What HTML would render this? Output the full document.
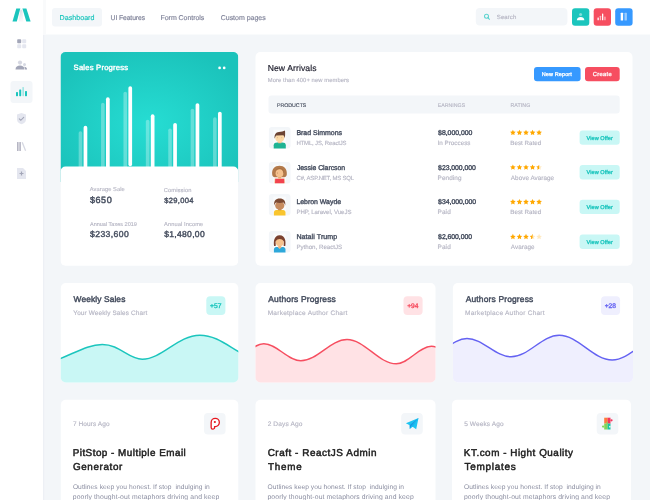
<!DOCTYPE html>
<html><head><meta charset="utf-8"><title>Dashboard</title>
<style>
html,body{margin:0;padding:0;width:650px;height:500px;overflow:hidden;background:#F3F6F9;}
svg{display:block;will-change:transform;text-rendering:geometricPrecision;font-family:"Liberation Sans",sans-serif;}
</style></head>
<body>
<svg width="650" height="500" viewBox="0 0 650 500">
<rect x="0.00" y="0.00" width="650.00" height="500.00" rx="0" fill="#F3F6F9" />
<rect x="0.00" y="0.00" width="43.00" height="500.00" rx="0" fill="#FFFFFF" />
<rect x="43.00" y="34.50" width="1.20" height="500.00" rx="0" fill="#EDF0F5" />
<rect x="43.00" y="0.00" width="607.00" height="34.50" rx="0" fill="#FFFFFF" />
<rect x="43.00" y="0.00" width="3.00" height="34.50" rx="0" fill="#F9FAFB" />
<polygon points="16.3,8.5 20.3,8.5 16.8,21.5 12.5,21.5" fill="#1BC5BD"/>
<polygon points="22.4,8.5 26.4,8.5 30.6,21.5 26.3,21.5" fill="#1BC5BD"/>
<defs><linearGradient id="lg" x1="0" y1="0" x2="0.3" y2="1"><stop offset="0" stop-color="#DADCE4"/><stop offset="1" stop-color="#F8F8FA"/></linearGradient></defs>
<polygon points="20.3,9.8 22.4,9.8 23.3,21.5 18.6,21.5" fill="url(#lg)"/>
<rect x="17.20" y="39.20" width="4.00" height="4.00" rx="0.8" fill="#A3A6B8" />
<rect x="22.20" y="39.20" width="4.00" height="4.00" rx="0.8" fill="#E4E6EF" />
<rect x="17.20" y="44.20" width="4.00" height="4.00" rx="0.8" fill="#E4E6EF" />
<rect x="22.20" y="44.20" width="4.00" height="4.00" rx="0.8" fill="#E4E6EF" />
<circle cx="20" cy="62.6" r="2.1" fill="#D6D8E2"/>
<circle cx="24.5" cy="64.6" r="1.5" fill="#D6D8E2"/>
<path d="M15.5,69.6 C15.6,66.6 17.5,65.6 20,65.6 C22.5,65.6 24.4,66.6 24.5,69.6 Z" fill="#A3A6B8"/>
<path d="M24.2,66.8 C26,66.8 26.9,67.8 27.1,69.6 L25,69.6 C24.9,68.3 24.6,67.4 24.2,66.8 Z" fill="#A3A6B8"/>
<rect x="10.50" y="81.00" width="22.00" height="22.00" rx="3" fill="#F3F6F9" />
<rect x="16.00" y="92.00" width="2.00" height="4.20" rx="0.6" fill="#1BC5BD" />
<rect x="19.20" y="89.40" width="2.00" height="6.80" rx="0.6" fill="#1BC5BD" />
<rect x="22.40" y="87.00" width="1.50" height="9.20" rx="0.6" fill="#9BE5E1" />
<rect x="25.00" y="91.00" width="2.00" height="5.20" rx="0.6" fill="#1BC5BD" />
<path d="M17,114.5 L21.5,113 L26,114.5 L26,119.5 C26,122 24,123.5 21.5,124.3 C19,123.5 17,122 17,119.5 Z" fill="#E4E6EF"/>
<path d="M19.3,118.9 L20.8,120.3 L23.7,117.3" stroke="#A3A6B8" stroke-width="1.1" fill="none" stroke-linecap="round"/>
<rect x="17.00" y="142.00" width="1.60" height="9.00" rx="0.3" fill="#B5B5C3" />
<rect x="19.30" y="142.00" width="1.60" height="9.00" rx="0.3" fill="#B5B5C3" />
<path d="M22.2,142.3 L25.6,150.8" stroke="#D6D8E2" stroke-width="1.3"/>
<path d="M17,168 L23,168 L26,171 L26,179 L17,179 Z" fill="#E4E6EF"/>
<path d="M21.5,171.5 L21.5,175.5 M19.5,173.5 L23.5,173.5" stroke="#A3A6B8" stroke-width="1.2"/>
<rect x="52.00" y="8.00" width="50.00" height="18.50" rx="3" fill="#F3F6F9" />
<text x="59.51" y="19.90" font-size="7.11" font-weight="normal" letter-spacing="0.021" fill="#1BC5BD" stroke="#1BC5BD" stroke-width="0.16" stroke-linejoin="round" >Dashboard</text>
<text x="110.57" y="19.90" font-size="6.84" font-weight="normal" letter-spacing="-0.115" fill="#80849A" stroke="#80849A" stroke-width="0.16" stroke-linejoin="round" >UI Features</text>
<text x="160.52" y="19.90" font-size="7.0" font-weight="normal" letter-spacing="-0.042" fill="#80849A" stroke="#80849A" stroke-width="0.16" stroke-linejoin="round" >Form Controls</text>
<text x="220.73" y="19.90" font-size="7.03" font-weight="normal" letter-spacing="-0.028" fill="#80849A" stroke="#80849A" stroke-width="0.16" stroke-linejoin="round" >Custom pages</text>
<rect x="475.80" y="8.00" width="91.60" height="17.50" rx="4" fill="#F3F6F9" />
<circle cx="486.5" cy="16.3" r="2.0" fill="none" stroke="#1BC5BD" stroke-opacity="0.7" stroke-width="1.05"/>
<path d="M488.1,17.9 L489.5,19.3" stroke="#1BC5BD" stroke-opacity="0.7" stroke-width="1.05" stroke-linecap="round"/>
<text x="496.79" y="18.80" font-size="6.06" font-weight="normal" letter-spacing="0.064" fill="#B5B5C3" stroke="#B5B5C3" stroke-width="0.134" stroke-linejoin="round" >Search</text>
<rect x="572.00" y="8.30" width="17.30" height="17.40" rx="3" fill="#1BC5BD" />
<circle cx="580.6" cy="14.6" r="1.5" fill="#FFFFFF" fill-opacity="0.45"/>
<path d="M576.8,20.2 C577,17.9 578.5,16.9 580.6,16.9 C582.7,16.9 584.2,17.9 584.4,20.2 Z" fill="#FFFFFF"/>
<rect x="593.70" y="8.30" width="17.30" height="17.40" rx="3" fill="#F64E60" />
<rect x="597.50" y="17.40" width="1.30" height="2.90" rx="0.4" fill="#FFFFFF" />
<rect x="599.80" y="15.80" width="1.30" height="4.50" rx="0.4" fill="#FFFFFF" fill-opacity="0.6"/>
<rect x="602.00" y="13.50" width="1.30" height="6.80" rx="0.4" fill="#FFFFFF" />
<rect x="604.30" y="16.50" width="1.30" height="3.80" rx="0.4" fill="#FFFFFF" fill-opacity="0.6"/>
<rect x="615.20" y="8.30" width="17.40" height="17.40" rx="3" fill="#3699FF" />
<rect x="620.70" y="12.80" width="2.40" height="7.80" rx="0.5" fill="#FFFFFF" />
<rect x="624.50" y="12.80" width="2.40" height="7.80" rx="0.5" fill="#FFFFFF" fill-opacity="0.5"/>
<defs><radialGradient id="tg" cx="0.5" cy="0.55" r="0.6"><stop offset="0" stop-color="#26DDD3"/><stop offset="1" stop-color="#1BC3BB"/></radialGradient></defs>
<clipPath id="c1"><rect x="60.5" y="52" width="177.8" height="213.8" rx="5"/></clipPath>
<g clip-path="url(#c1)">
<rect x="60.50" y="52.00" width="177.80" height="130.00" rx="0" fill="url(#tg)" />
<rect x="78.65" y="131.30" width="3.60" height="80.00" rx="1.8" fill="#FFFFFF" fill-opacity="0.3"/>
<rect x="83.60" y="125.80" width="3.70" height="80.00" rx="1.85" fill="#FFFFFF" />
<rect x="101.05" y="102.80" width="3.60" height="80.00" rx="1.8" fill="#FFFFFF" fill-opacity="0.3"/>
<rect x="106.00" y="97.30" width="3.70" height="80.00" rx="1.85" fill="#FFFFFF" />
<rect x="123.45" y="91.70" width="3.60" height="80.00" rx="1.8" fill="#FFFFFF" fill-opacity="0.3"/>
<rect x="128.40" y="86.20" width="3.70" height="80.00" rx="1.85" fill="#FFFFFF" />
<rect x="145.85" y="119.80" width="3.60" height="80.00" rx="1.8" fill="#FFFFFF" fill-opacity="0.3"/>
<rect x="150.80" y="114.30" width="3.70" height="80.00" rx="1.85" fill="#FFFFFF" />
<rect x="168.25" y="128.50" width="3.60" height="80.00" rx="1.8" fill="#FFFFFF" fill-opacity="0.3"/>
<rect x="173.20" y="123.00" width="3.70" height="80.00" rx="1.85" fill="#FFFFFF" />
<rect x="190.65" y="108.70" width="3.60" height="80.00" rx="1.8" fill="#FFFFFF" fill-opacity="0.3"/>
<rect x="195.60" y="103.20" width="3.70" height="80.00" rx="1.85" fill="#FFFFFF" />
<rect x="213.05" y="117.20" width="3.60" height="80.00" rx="1.8" fill="#FFFFFF" fill-opacity="0.3"/>
<rect x="218.00" y="111.70" width="3.70" height="80.00" rx="1.85" fill="#FFFFFF" />
<rect x="60.50" y="166.50" width="177.80" height="110.00" rx="5" fill="#FFFFFF" />
</g>
<circle cx="219.6" cy="67.9" r="1.35" fill="#FFFFFF"/>
<circle cx="224.2" cy="67.9" r="1.35" fill="#FFFFFF"/>
<text x="73.60" y="70.05" font-size="7.68" font-weight="normal" letter-spacing="0.193" fill="#FFFFFF" stroke="#FFFFFF" stroke-width="0.389" stroke-linejoin="round" >Sales Progress</text>
<text x="89.86" y="190.90" font-size="5.68" font-weight="normal" letter-spacing="0.082" fill="#B5B5C3" stroke="#B5B5C3" stroke-width="0.125" stroke-linejoin="round" >Avarage Sale</text>
<text x="89.93" y="202.80" font-size="9.07" font-weight="normal" letter-spacing="0.561" fill="#464E5F" stroke="#464E5F" stroke-width="0.443" stroke-linejoin="round" >$650</text>
<text x="163.78" y="191.80" font-size="5.72" font-weight="normal" letter-spacing="0.115" fill="#B5B5C3" stroke="#B5B5C3" stroke-width="0.125" stroke-linejoin="round" >Comission</text>
<text x="164.31" y="202.50" font-size="7.58" font-weight="normal" letter-spacing="0.298" fill="#464E5F" stroke="#464E5F" stroke-width="0.378" stroke-linejoin="round" >$29,004</text>
<text x="89.96" y="225.90" font-size="5.53" font-weight="normal" letter-spacing="0.006" fill="#B5B5C3" stroke="#B5B5C3" stroke-width="0.125" stroke-linejoin="round" >Annual Taxes 2019</text>
<text x="90.03" y="237.30" font-size="8.64" font-weight="normal" letter-spacing="0.405" fill="#464E5F" stroke="#464E5F" stroke-width="0.425" stroke-linejoin="round" >$233,600</text>
<text x="164.06" y="225.90" font-size="5.7" font-weight="normal" letter-spacing="0.099" fill="#B5B5C3" stroke="#B5B5C3" stroke-width="0.125" stroke-linejoin="round" >Annual Income</text>
<text x="164.13" y="237.40" font-size="8.55" font-weight="normal" letter-spacing="0.314" fill="#464E5F" stroke="#464E5F" stroke-width="0.425" stroke-linejoin="round" >$1,480,00</text>
<rect x="255.50" y="52.00" width="377.00" height="213.80" rx="5" fill="#FFFFFF" />
<text x="267.71" y="70.80" font-size="8.57" font-weight="normal" letter-spacing="0.108" fill="#1E1E2D" stroke="#1E1E2D" stroke-width="0.189" stroke-linejoin="round" >New Arrivals</text>
<text x="267.80" y="82.40" font-size="5.82" font-weight="normal" letter-spacing="0.086" fill="#B5B5C3" stroke="#B5B5C3" stroke-width="0.128" stroke-linejoin="round" >More than 400+ new members</text>
<rect x="534.00" y="67.00" width="46.60" height="14.20" rx="3" fill="#3699FF" />
<text x="541.70" y="76.00" font-size="5.53" font-weight="normal" letter-spacing="0.113" fill="#FFFFFF" stroke="#FFFFFF" stroke-width="0.283" stroke-linejoin="round" >New Report</text>
<rect x="585.00" y="67.00" width="34.70" height="14.20" rx="3" fill="#F64E60" />
<text x="592.85" y="76.00" font-size="5.8" font-weight="normal" letter-spacing="0.288" fill="#FFFFFF" stroke="#FFFFFF" stroke-width="0.283" stroke-linejoin="round" >Create</text>
<rect x="268.50" y="95.40" width="351.20" height="18.10" rx="3" fill="#F3F6F9" />
<text x="276.94" y="106.70" font-size="5.24" font-weight="normal" letter-spacing="0.006" fill="#464E5F" stroke="#464E5F" stroke-width="0.118" stroke-linejoin="round" >PRODUCTS</text>
<text x="437.64" y="106.70" font-size="5.26" font-weight="normal" letter-spacing="0.012" fill="#B5B5C3" stroke="#B5B5C3" stroke-width="0.118" stroke-linejoin="round" >EARNINGS</text>
<text x="510.43" y="106.70" font-size="5.31" font-weight="normal" letter-spacing="0.046" fill="#B5B5C3" stroke="#B5B5C3" stroke-width="0.118" stroke-linejoin="round" >RATING</text>
<rect x="268.90" y="127.00" width="21.60" height="21.60" rx="3" fill="#F3F6F9" />
<rect x="273.30" y="129.60" width="12.6" height="19" fill="#FFFFFF" fill-opacity="0.55"/><path d="M273.70,148.50 L273.70,145.30 C273.70,143.30 275.20,142.60 277.40,142.60 L282.20,142.60 C284.40,142.60 285.80,143.30 285.80,145.30 L285.80,148.50 Z" fill="#1DB393"/><rect x="278.10" y="140.60" width="3.3" height="2.6" fill="#F2C08E"/><ellipse cx="279.75" cy="137.90" rx="4.5" ry="4.3" fill="#FCD9A6"/><path d="M274.60,138.80 C274.10,134.60 275.70,132.20 278.90,131.90 C281.40,131.70 283.50,131.40 285.00,130.60 C285.20,132.50 285.30,135.50 284.80,138.20 C284.20,136.00 283.70,135.20 283.10,135.20 L276.30,135.40 C275.50,136.00 275.10,137.40 274.60,138.80 Z" fill="#6B4332"/><circle cx="277.60" cy="137.80" r="0.45" fill="#C79A76"/><circle cx="281.80" cy="137.80" r="0.45" fill="#C79A76"/>
<text x="296.43" y="134.90" font-size="6.97" font-weight="normal" letter-spacing="-0.008" fill="#464E5F" stroke="#464E5F" stroke-width="0.371" stroke-linejoin="round" >Brad Simmons</text>
<text x="296.39" y="145.00" font-size="5.97" font-weight="normal" letter-spacing="-0.138" fill="#B5B5C3" stroke="#B5B5C3" stroke-width="0.141" stroke-linejoin="round" >HTML, JS, ReactJS</text>
<text x="438.12" y="134.90" font-size="6.91" font-weight="normal" letter-spacing="-0.038" fill="#464E5F" stroke="#464E5F" stroke-width="0.371" stroke-linejoin="round" >$8,000,000</text>
<text x="437.51" y="145.00" font-size="6.28" font-weight="normal" letter-spacing="0.023" fill="#B5B5C3" stroke="#B5B5C3" stroke-width="0.141" stroke-linejoin="round" >In Proccess</text>
<text x="510.37" y="145.00" font-size="6.22" font-weight="normal" letter-spacing="-0.003" fill="#B5B5C3" stroke="#B5B5C3" stroke-width="0.141" stroke-linejoin="round" >Best Rated</text>
<rect x="579.60" y="130.40" width="40.10" height="14.40" rx="3" fill="#C9F7F5" />
<text x="586.52" y="139.60" font-size="5.59" font-weight="normal" letter-spacing="0.057" fill="#1BC5BD" stroke="#1BC5BD" stroke-width="0.291" stroke-linejoin="round" >View Offer</text>
<polygon points="512.90,129.75 513.75,131.53 515.71,131.79 514.28,133.15 514.63,135.09 512.90,134.15 511.17,135.09 511.52,133.15 510.09,131.79 512.05,131.53" fill="#FFA800" fill-opacity="1"/>
<polygon points="519.45,129.75 520.30,131.53 522.26,131.79 520.83,133.15 521.18,135.09 519.45,134.15 517.72,135.09 518.07,133.15 516.64,131.79 518.60,131.53" fill="#FFA800" fill-opacity="1"/>
<polygon points="526.00,129.75 526.85,131.53 528.81,131.79 527.38,133.15 527.73,135.09 526.00,134.15 524.27,135.09 524.62,133.15 523.19,131.79 525.15,131.53" fill="#FFA800" fill-opacity="1"/>
<polygon points="532.55,129.75 533.40,131.53 535.36,131.79 533.93,133.15 534.28,135.09 532.55,134.15 530.82,135.09 531.17,133.15 529.74,131.79 531.70,131.53" fill="#FFA800" fill-opacity="1"/>
<polygon points="539.10,129.75 539.95,131.53 541.91,131.79 540.48,133.15 540.83,135.09 539.10,134.15 537.37,135.09 537.72,133.15 536.29,131.79 538.25,131.53" fill="#FFA800" fill-opacity="1"/>
<rect x="268.90" y="162.00" width="21.60" height="21.60" rx="3" fill="#F3F6F9" />
<rect x="273.30" y="164.60" width="12.6" height="19" fill="#FFFFFF" fill-opacity="0.55"/><path d="M274.10,183.30 L274.50,178.60 L284.80,178.60 L285.20,183.30 Z" fill="#F3D3B0"/><path d="M275.00,183.30 L275.20,178.80 L284.10,178.80 L284.30,183.30 Z" fill="#F2434E"/><rect x="278.20" y="175.50" width="3" height="3.4" fill="#F0B77F"/><path d="M272.20,174.50 C271.50,169.00 274.90,165.80 279.50,165.80 C284.10,165.80 287.30,169.00 286.80,174.50 C286.50,176.60 285.20,177.60 283.50,177.20 L275.50,177.20 C273.80,177.60 272.40,176.60 272.20,174.50 Z" fill="#B37A4B"/><ellipse cx="279.50" cy="173.30" rx="3.9" ry="4.0" fill="#F5C18D"/><path d="M275.30,172.20 C276.20,168.90 278.70,168.40 281.50,169.30 C282.70,170.60 283.70,172.80 283.90,174.40 C284.50,171.20 283.50,168.30 279.60,168.10 C277.10,168.10 275.40,169.80 275.30,172.20 Z" fill="#A86F42"/><circle cx="277.50" cy="173.00" r="0.45" fill="#9C6A45"/>
<text x="296.88" y="169.60" font-size="6.92" font-weight="normal" letter-spacing="-0.034" fill="#464E5F" stroke="#464E5F" stroke-width="0.371" stroke-linejoin="round" >Jessie Clarcson</text>
<text x="296.57" y="179.70" font-size="5.94" font-weight="normal" letter-spacing="-0.153" fill="#B5B5C3" stroke="#B5B5C3" stroke-width="0.141" stroke-linejoin="round" >C#, ASP.NET, MS SQL</text>
<text x="438.12" y="169.60" font-size="6.89" font-weight="normal" letter-spacing="-0.047" fill="#464E5F" stroke="#464E5F" stroke-width="0.371" stroke-linejoin="round" >$23,000,000</text>
<text x="437.56" y="179.70" font-size="6.39" font-weight="normal" letter-spacing="0.100" fill="#B5B5C3" stroke="#B5B5C3" stroke-width="0.141" stroke-linejoin="round" >Pending</text>
<text x="510.87" y="179.70" font-size="6.32" font-weight="normal" letter-spacing="0.046" fill="#B5B5C3" stroke="#B5B5C3" stroke-width="0.141" stroke-linejoin="round" >Above Avarage</text>
<rect x="579.60" y="165.10" width="40.10" height="14.40" rx="3" fill="#C9F7F5" />
<text x="586.52" y="174.30" font-size="5.59" font-weight="normal" letter-spacing="0.057" fill="#1BC5BD" stroke="#1BC5BD" stroke-width="0.291" stroke-linejoin="round" >View Offer</text>
<polygon points="512.90,164.45 513.75,166.23 515.71,166.49 514.28,167.85 514.63,169.79 512.90,168.85 511.17,169.79 511.52,167.85 510.09,166.49 512.05,166.23" fill="#FFA800" fill-opacity="1"/>
<polygon points="519.45,164.45 520.30,166.23 522.26,166.49 520.83,167.85 521.18,169.79 519.45,168.85 517.72,169.79 518.07,167.85 516.64,166.49 518.60,166.23" fill="#FFA800" fill-opacity="1"/>
<polygon points="526.00,164.45 526.85,166.23 528.81,166.49 527.38,167.85 527.73,169.79 526.00,168.85 524.27,169.79 524.62,167.85 523.19,166.49 525.15,166.23" fill="#FFA800" fill-opacity="1"/>
<polygon points="532.55,164.45 533.40,166.23 535.36,166.49 533.93,167.85 534.28,169.79 532.55,168.85 530.82,169.79 531.17,167.85 529.74,166.49 531.70,166.23" fill="#FFA800" fill-opacity="1"/>
<polygon points="539.10,164.45 539.95,166.23 541.91,166.49 540.48,167.85 540.83,169.79 539.10,168.85 537.37,169.79 537.72,167.85 536.29,166.49 538.25,166.23" fill="#FFA800" fill-opacity="0.25"/>
<clipPath id="hs14"><rect x="536.10" y="164.40" width="3" height="6"/></clipPath>
<polygon points="539.10,164.45 539.95,166.23 541.91,166.49 540.48,167.85 540.83,169.79 539.10,168.85 537.37,169.79 537.72,167.85 536.29,166.49 538.25,166.23" fill="#FFA800" clip-path="url(#hs14)"/>
<rect x="268.90" y="194.00" width="21.60" height="21.60" rx="3" fill="#F3F6F9" />
<rect x="273.30" y="196.60" width="12.6" height="19" fill="#FFFFFF" fill-opacity="0.55"/><path d="M273.90,215.50 L273.90,212.40 C273.90,210.50 275.40,209.90 277.40,209.90 L282.00,209.90 C284.00,209.90 285.50,210.50 285.50,212.40 L285.50,215.50 Z" fill="#F9C52E"/><rect x="278.20" y="207.80" width="3.1" height="2.4" fill="#B07A52"/><ellipse cx="279.75" cy="205.50" rx="4.6" ry="4.4" fill="#C68B5F"/><path d="M274.30,205.60 C273.50,201.20 275.70,198.60 279.70,198.60 C283.70,198.60 285.90,201.20 285.20,205.60 C284.70,203.80 284.10,202.80 283.20,202.60 C280.90,203.20 278.50,203.20 276.30,202.60 C275.40,202.90 274.80,203.80 274.30,205.60 Z" fill="#7B4A33"/>
<text x="296.43" y="204.20" font-size="6.94" font-weight="normal" letter-spacing="-0.019" fill="#464E5F" stroke="#464E5F" stroke-width="0.371" stroke-linejoin="round" >Lebron Wayde</text>
<text x="296.38" y="214.30" font-size="6.1" font-weight="normal" letter-spacing="-0.064" fill="#B5B5C3" stroke="#B5B5C3" stroke-width="0.141" stroke-linejoin="round" >PHP, Laravel, VueJS</text>
<text x="438.12" y="204.20" font-size="6.92" font-weight="normal" letter-spacing="-0.033" fill="#464E5F" stroke="#464E5F" stroke-width="0.371" stroke-linejoin="round" >$34,000,000</text>
<text x="437.56" y="214.30" font-size="6.41" font-weight="normal" letter-spacing="0.112" fill="#B5B5C3" stroke="#B5B5C3" stroke-width="0.141" stroke-linejoin="round" >Paid</text>
<text x="510.37" y="214.30" font-size="6.22" font-weight="normal" letter-spacing="-0.003" fill="#B5B5C3" stroke="#B5B5C3" stroke-width="0.141" stroke-linejoin="round" >Best Rated</text>
<rect x="579.60" y="199.70" width="40.10" height="14.40" rx="3" fill="#C9F7F5" />
<text x="586.52" y="208.90" font-size="5.59" font-weight="normal" letter-spacing="0.057" fill="#1BC5BD" stroke="#1BC5BD" stroke-width="0.291" stroke-linejoin="round" >View Offer</text>
<polygon points="512.90,199.05 513.75,200.83 515.71,201.09 514.28,202.45 514.63,204.39 512.90,203.45 511.17,204.39 511.52,202.45 510.09,201.09 512.05,200.83" fill="#FFA800" fill-opacity="1"/>
<polygon points="519.45,199.05 520.30,200.83 522.26,201.09 520.83,202.45 521.18,204.39 519.45,203.45 517.72,204.39 518.07,202.45 516.64,201.09 518.60,200.83" fill="#FFA800" fill-opacity="1"/>
<polygon points="526.00,199.05 526.85,200.83 528.81,201.09 527.38,202.45 527.73,204.39 526.00,203.45 524.27,204.39 524.62,202.45 523.19,201.09 525.15,200.83" fill="#FFA800" fill-opacity="1"/>
<polygon points="532.55,199.05 533.40,200.83 535.36,201.09 533.93,202.45 534.28,204.39 532.55,203.45 530.82,204.39 531.17,202.45 529.74,201.09 531.70,200.83" fill="#FFA800" fill-opacity="1"/>
<polygon points="539.10,199.05 539.95,200.83 541.91,201.09 540.48,202.45 540.83,204.39 539.10,203.45 537.37,204.39 537.72,202.45 536.29,201.09 538.25,200.83" fill="#FFA800" fill-opacity="1"/>
<rect x="268.90" y="230.90" width="21.60" height="21.60" rx="3" fill="#F3F6F9" />
<rect x="273.30" y="233.50" width="12.6" height="19" fill="#FFFFFF" fill-opacity="0.55"/><path d="M273.90,252.40 L273.90,249.50 C273.90,247.70 275.40,247.10 277.40,247.10 L282.00,247.10 C284.00,247.10 285.50,247.70 285.50,249.50 L285.50,252.40 Z" fill="#2EA8DA"/><path d="M277.60,247.10 L279.70,249.10 L281.80,247.10 Z" fill="#F3BE8B"/><path d="M274.10,246.10 C273.50,241.90 273.70,235.50 279.70,235.30 C285.70,235.50 285.90,241.90 285.30,246.10 L283.70,246.10 L283.70,240.90 L275.70,240.90 L275.70,246.10 Z" fill="#7A4130"/><rect x="278.30" y="244.50" width="2.9" height="3" fill="#EFB27C"/><ellipse cx="279.70" cy="242.30" rx="3.9" ry="4.1" fill="#F6C28D"/><path d="M275.50,241.70 C275.70,238.20 277.50,237.30 279.70,237.30 C281.90,237.30 283.70,238.20 283.90,241.70 C282.90,239.70 281.10,239.10 279.70,239.10 C278.30,239.10 276.50,239.70 275.50,241.70 Z" fill="#7A4130"/>
<text x="296.42" y="239.00" font-size="7.1" font-weight="normal" letter-spacing="0.057" fill="#464E5F" stroke="#464E5F" stroke-width="0.371" stroke-linejoin="round" >Natali Trump</text>
<text x="296.38" y="249.10" font-size="6.19" font-weight="normal" letter-spacing="-0.018" fill="#B5B5C3" stroke="#B5B5C3" stroke-width="0.141" stroke-linejoin="round" >Python, ReactJS</text>
<text x="438.12" y="239.00" font-size="6.88" font-weight="normal" letter-spacing="-0.055" fill="#464E5F" stroke="#464E5F" stroke-width="0.371" stroke-linejoin="round" >$2,600,000</text>
<text x="437.56" y="249.10" font-size="6.41" font-weight="normal" letter-spacing="0.112" fill="#B5B5C3" stroke="#B5B5C3" stroke-width="0.141" stroke-linejoin="round" >Paid</text>
<text x="510.87" y="249.10" font-size="6.32" font-weight="normal" letter-spacing="0.049" fill="#B5B5C3" stroke="#B5B5C3" stroke-width="0.141" stroke-linejoin="round" >Avarage</text>
<rect x="579.60" y="234.50" width="40.10" height="14.40" rx="3" fill="#C9F7F5" />
<text x="586.52" y="243.70" font-size="5.59" font-weight="normal" letter-spacing="0.057" fill="#1BC5BD" stroke="#1BC5BD" stroke-width="0.291" stroke-linejoin="round" >View Offer</text>
<polygon points="512.90,233.85 513.75,235.63 515.71,235.89 514.28,237.25 514.63,239.19 512.90,238.25 511.17,239.19 511.52,237.25 510.09,235.89 512.05,235.63" fill="#FFA800" fill-opacity="1"/>
<polygon points="519.45,233.85 520.30,235.63 522.26,235.89 520.83,237.25 521.18,239.19 519.45,238.25 517.72,239.19 518.07,237.25 516.64,235.89 518.60,235.63" fill="#FFA800" fill-opacity="1"/>
<polygon points="526.00,233.85 526.85,235.63 528.81,235.89 527.38,237.25 527.73,239.19 526.00,238.25 524.27,239.19 524.62,237.25 523.19,235.89 525.15,235.63" fill="#FFA800" fill-opacity="1"/>
<polygon points="532.55,233.85 533.40,235.63 535.36,235.89 533.93,237.25 534.28,239.19 532.55,238.25 530.82,239.19 531.17,237.25 529.74,235.89 531.70,235.63" fill="#FFA800" fill-opacity="0.25"/>
<clipPath id="hs33"><rect x="529.55" y="233.80" width="3" height="6"/></clipPath>
<polygon points="532.55,233.85 533.40,235.63 535.36,235.89 533.93,237.25 534.28,239.19 532.55,238.25 530.82,239.19 531.17,237.25 529.74,235.89 531.70,235.63" fill="#FFA800" clip-path="url(#hs33)"/>
<polygon points="539.10,233.85 539.95,235.63 541.91,235.89 540.48,237.25 540.83,239.19 539.10,238.25 537.37,239.19 537.72,237.25 536.29,235.89 538.25,235.63" fill="#FFA800" fill-opacity="0.25"/>
<clipPath id="cc60"><rect x="60.8" y="283" width="177.50" height="99.4" rx="5"/></clipPath>
<rect x="60.80" y="283.00" width="177.50" height="99.40" rx="5" fill="#FFFFFF" />
<g clip-path="url(#cc60)">
<path d="M58,359.5 C75,353 88,344.5 102.3,344.5 C120,344.5 128,359.2 142.3,359.2 C162,359.2 178,335.2 199.8,335.2 C216,335.2 228,346 241,353 L240.3,390 L58.8,390 Z" fill="#C9F7F5"/>
<path d="M58,359.5 C75,353 88,344.5 102.3,344.5 C120,344.5 128,359.2 142.3,359.2 C162,359.2 178,335.2 199.8,335.2 C216,335.2 228,346 241,353" fill="none" stroke="#1BC5BD" stroke-width="1.4"/>
</g>
<text x="73.58" y="301.70" font-size="8.4" font-weight="normal" letter-spacing="0.106" fill="#464E5F" stroke="#464E5F" stroke-width="0.436" stroke-linejoin="round" >Weekly Sales</text>
<text x="73.34" y="314.60" font-size="6.39" font-weight="normal" letter-spacing="0.157" fill="#B5B5C3" stroke="#B5B5C3" stroke-width="0.137" stroke-linejoin="round" >Your Weekly Sales Chart</text>
<rect x="206.30" y="296.20" width="19.10" height="18.80" rx="4" fill="#C9F7F5" />
<text x="209.94" y="308.00" font-size="6.69" font-weight="normal" letter-spacing="0.090" fill="#1BC5BD" stroke="#1BC5BD" stroke-width="0.349" stroke-linejoin="round" >+57</text>
<clipPath id="cc255"><rect x="255.5" y="283" width="180.00" height="99.4" rx="5"/></clipPath>
<rect x="255.50" y="283.00" width="180.00" height="99.40" rx="5" fill="#FFFFFF" />
<g clip-path="url(#cc255)">
<path d="M228,362 C240.9,362 250.9,343.8 263.8,343.8 C277.1,343.8 287.5,360.8 300.8,360.8 C317.4,360.8 330.4,339.5 347,339.5 C364.7,339.5 378.5,363.8 396.2,363.8 C408.9,363.8 418.8,346.3 431.5,346.3 C445.4,346.3 456.1,365 470,365 L437.5,390 L253.5,390 Z" fill="#FFE2E5"/>
<path d="M228,362 C240.9,362 250.9,343.8 263.8,343.8 C277.1,343.8 287.5,360.8 300.8,360.8 C317.4,360.8 330.4,339.5 347,339.5 C364.7,339.5 378.5,363.8 396.2,363.8 C408.9,363.8 418.8,346.3 431.5,346.3 C445.4,346.3 456.1,365 470,365" fill="none" stroke="#F64E60" stroke-width="1.4"/>
</g>
<text x="268.32" y="301.70" font-size="8.48" font-weight="normal" letter-spacing="0.137" fill="#464E5F" stroke="#464E5F" stroke-width="0.436" stroke-linejoin="round" >Authors Progress</text>
<text x="267.64" y="314.60" font-size="6.55" font-weight="normal" letter-spacing="0.242" fill="#B5B5C3" stroke="#B5B5C3" stroke-width="0.137" stroke-linejoin="round" >Marketplace Author Chart</text>
<rect x="403.50" y="296.20" width="19.10" height="18.80" rx="4" fill="#FFE2E5" />
<text x="407.14" y="308.00" font-size="6.63" font-weight="normal" letter-spacing="0.055" fill="#F64E60" stroke="#F64E60" stroke-width="0.349" stroke-linejoin="round" >+94</text>
<clipPath id="cc452"><rect x="452.9" y="283" width="180.10" height="99.4" rx="5"/></clipPath>
<rect x="452.90" y="283.00" width="180.10" height="99.40" rx="5" fill="#FFFFFF" />
<g clip-path="url(#cc452)">
<path d="M424,358 C439.5,358 451.5,338.5 467,338.5 C482.9,338.5 495.3,356.8 511.2,356.8 C528.5,356.8 541.9,335.3 559.2,335.3 C578.3,335.3 593.1,360 612.2,360 C630.2,360 644,337 662,337 L635,390 L450.9,390 Z" fill="#EFEFFE"/>
<path d="M424,358 C439.5,358 451.5,338.5 467,338.5 C482.9,338.5 495.3,356.8 511.2,356.8 C528.5,356.8 541.9,335.3 559.2,335.3 C578.3,335.3 593.1,360 612.2,360 C630.2,360 644,337 662,337" fill="none" stroke="#6462F2" stroke-width="1.4"/>
</g>
<text x="465.72" y="301.70" font-size="8.48" font-weight="normal" letter-spacing="0.144" fill="#464E5F" stroke="#464E5F" stroke-width="0.436" stroke-linejoin="round" >Authors Progress</text>
<text x="465.05" y="314.60" font-size="6.54" font-weight="normal" letter-spacing="0.239" fill="#B5B5C3" stroke="#B5B5C3" stroke-width="0.137" stroke-linejoin="round" >Marketplace Author Chart</text>
<rect x="601.00" y="296.20" width="19.10" height="18.80" rx="4" fill="#EFEFFE" />
<text x="604.64" y="308.00" font-size="6.67" font-weight="normal" letter-spacing="0.073" fill="#6462F2" stroke="#6462F2" stroke-width="0.349" stroke-linejoin="round" >+28</text>
<rect x="60.80" y="399.80" width="177.50" height="120.00" rx="5" fill="#FFFFFF" />
<text x="72.95" y="425.80" font-size="6.52" font-weight="normal" letter-spacing="0.078" fill="#B5B5C3" stroke="#B5B5C3" stroke-width="0.144" stroke-linejoin="round" >7 Hours Ago</text>
<rect x="204.00" y="413.00" width="21.60" height="21.60" rx="4" fill="#F3F6F9" />
<path d="M211.15,422.45 A4.1,4.1 0 1 1 215.25,426.55 L214.55,426.55 L214.55,427.45 A1.7,1.7 0 0 1 211.15,427.45 Z" fill="#FFFFFF" stroke="#E6171F" stroke-width="1.3" stroke-linejoin="round"/><circle cx="214.85" cy="422.00" r="1.1" fill="#E6171F"/>
<text x="72.65" y="455.80" font-size="9.88" font-weight="normal" letter-spacing="0.480" fill="#212121" stroke="#212121" stroke-width="0.472" stroke-linejoin="round" >PitStop - Multiple Email</text>
<text x="72.94" y="469.90" font-size="9.89" font-weight="normal" letter-spacing="0.615" fill="#212121" stroke="#212121" stroke-width="0.472" stroke-linejoin="round" >Generator</text>
<text x="72.90" y="488.60" font-size="6.66" font-weight="normal" letter-spacing="0.054" fill="#8A8DA0" xml:space="preserve" style="white-space:pre">Outlines keep you honest. If stop  indulging in</text>
<text x="72.76" y="498.60" font-size="6.81" font-weight="normal" letter-spacing="0.134" fill="#8A8DA0" >poorly thought-out metaphors driving and keep</text>
<rect x="255.50" y="399.80" width="180.00" height="120.00" rx="5" fill="#FFFFFF" />
<text x="267.64" y="425.80" font-size="6.59" font-weight="normal" letter-spacing="0.127" fill="#B5B5C3" stroke="#B5B5C3" stroke-width="0.144" stroke-linejoin="round" >2 Days Ago</text>
<rect x="401.20" y="413.00" width="21.60" height="21.60" rx="4" fill="#F3F6F9" />
<path d="M418.50,417.90 L405.90,423.30 L409.70,425.20 L409.80,429.00 L412.60,426.70 L416.20,429.30 Z" fill="#1CC4F2"/><path d="M409.70,425.20 L418.50,417.90 L411.30,426.10 L409.80,429.00 Z" fill="#1A97E0"/><path d="M411.30,426.10 L418.50,417.90 L412.60,426.70 Z" fill="#1BB2EC"/>
<text x="267.64" y="455.80" font-size="9.91" font-weight="normal" letter-spacing="0.545" fill="#212121" stroke="#212121" stroke-width="0.472" stroke-linejoin="round" >Craft - ReactJS Admin</text>
<text x="267.94" y="469.90" font-size="9.86" font-weight="normal" letter-spacing="0.814" fill="#212121" stroke="#212121" stroke-width="0.472" stroke-linejoin="round" >Theme</text>
<text x="267.60" y="488.60" font-size="6.65" font-weight="normal" letter-spacing="0.052" fill="#8A8DA0" xml:space="preserve" style="white-space:pre">Outlines keep you honest. If stop  indulging in</text>
<text x="267.46" y="498.60" font-size="6.81" font-weight="normal" letter-spacing="0.129" fill="#8A8DA0" >poorly thought-out metaphors driving and keep</text>
<rect x="452.00" y="399.80" width="179.00" height="120.00" rx="5" fill="#FFFFFF" />
<text x="464.21" y="425.80" font-size="6.54" font-weight="normal" letter-spacing="0.096" fill="#B5B5C3" stroke="#B5B5C3" stroke-width="0.144" stroke-linejoin="round" >5 Weeks Ago</text>
<rect x="596.70" y="413.00" width="21.60" height="21.60" rx="4" fill="#F3F6F9" />
<rect x="604.20" y="417.70" width="3.5" height="5.9" fill="#FF7A3D"/><rect x="607.60" y="417.70" width="2.9" height="5.9" fill="#F5365C"/><circle cx="611.50" cy="420.30" r="1.15" fill="#F5365C"/><rect x="604.20" y="423.60" width="3.5" height="5.9" fill="#80D65A"/><circle cx="603.10" cy="426.60" r="1.15" fill="#80D65A"/><rect x="606.50" y="421.80" width="1.2" height="2.2" fill="#80D65A"/><rect x="607.60" y="423.60" width="2.9" height="5.9" fill="#18C2A4"/><rect x="609.20" y="425.90" width="1.3" height="1.6" fill="#FFFFFF"/>
<text x="463.84" y="455.80" font-size="9.89" font-weight="normal" letter-spacing="0.522" fill="#212121" stroke="#212121" stroke-width="0.472" stroke-linejoin="round" >KT.com - Hight Quality</text>
<text x="464.44" y="469.90" font-size="10.02" font-weight="normal" letter-spacing="0.711" fill="#212121" stroke="#212121" stroke-width="0.472" stroke-linejoin="round" >Templates</text>
<text x="464.10" y="488.60" font-size="6.66" font-weight="normal" letter-spacing="0.052" fill="#8A8DA0" xml:space="preserve" style="white-space:pre">Outlines keep you honest. If stop  indulging in</text>
<text x="463.96" y="498.60" font-size="6.8" font-weight="normal" letter-spacing="0.123" fill="#8A8DA0" >poorly thought-out metaphors driving and keep</text>
</svg>
</body></html>
